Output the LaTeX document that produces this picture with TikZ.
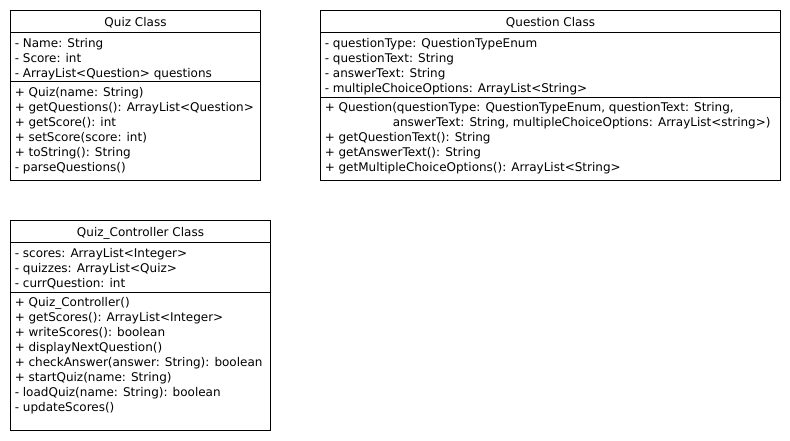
\documentclass[tikz,border=0pt]{standalone}
\usepackage{fontspec}
\setmainfont{DejaVu Sans}
\usepackage{tikz}
\usetikzlibrary{positioning}

\tikzset{
  classbox/.style={draw=black, line width=0.75pt},
  classname/.style={anchor=base, inner sep=0pt, font=\fontsize{9}{11}\selectfont},
  member/.style={anchor=base west, inner sep=0pt, font=\fontsize{9}{11}\selectfont}
}

\begin{document}
\begin{tikzpicture}[x=0.75pt,y=-0.75pt]
\useasboundingbox (0,0) rectangle (790,440);
% Quiz class
\draw[classbox] (10.5,10.5) rectangle (260.5,180.5);
\draw[classbox] (10.5,32.5) -- (260.5,32.5);
\draw[classbox] (10.5,81.5) -- (260.5,81.5);
\node[classname] (quizname) at (135.5,26.5) {Quiz Class};
\foreach \t [count=\i] in {- Name: String, - Score: int, - ArrayList<Question> questions}
  \node[member] (quizattr\i) at (14.5,32+15*\i) {\t};
\foreach \t [count=\i] in {+ Quiz(name: String), + getQuestions(): ArrayList<Question>, + getScore(): int, + setScore(score: int), + toString(): String, - parseQuestions()}
  \node[member] (quizop\i) at (14.5,81.5+15*\i) {\t};

% Question class
\draw[classbox] (320.5,10.5) rectangle (780.5,180.5);
\draw[classbox] (320.5,32.5) -- (780.5,32.5);
\draw[classbox] (320.5,97.5) -- (780.5,97.5);
\node[classname] (questname) at (550.5,26.5) {Question Class};
\foreach \t [count=\i] in {- questionType: QuestionTypeEnum, - questionText: String, - answerText: String, - multipleChoiceOptions: ArrayList<String>}
  \node[member] (questattr\i) at (324.5,32+15*\i) {\t};
\node[member] (questop1) at (324.5,111.5) {+ Question(questionType: QuestionTypeEnum, questionText: String,};
\node[member] (questop2) at (392.5,126.5) {answerText: String, multipleChoiceOptions: ArrayList<string>)};
\node[member] (questop3) at (324.5,141.5) {+ getQuestionText(): String};
\node[member] (questop4) at (324.5,156.5) {+ getAnswerText(): String};
\node[member] (questop5) at (324.5,171.5) {+ getMultipleChoiceOptions(): ArrayList<String>};

% Quiz_Controller class
\draw[classbox] (10.5,220.5) rectangle (270.5,430.5);
\draw[classbox] (10.5,242.5) -- (270.5,242.5);
\draw[classbox] (10.5,292.5) -- (270.5,292.5);
\node[classname] (ctrlname) at (140.5,236.5) {Quiz\_Controller Class};
\foreach \t [count=\i] in {- scores: ArrayList<Integer>, - quizzes: ArrayList<Quiz>, - currQuestion: int}
  \node[member] (ctrlattr\i) at (14.5,242.5+15*\i) {\t};
\foreach \t [count=\i] in {+ Quiz\_Controller(), + getScores(): ArrayList<Integer>, + writeScores(): boolean, + displayNextQuestion(), + checkAnswer(answer: String): boolean, + startQuiz(name: String), - loadQuiz(name: String): boolean, - updateScores()}
  \node[member] (ctrlop\i) at (14.5,291.5+15*\i) {\t};
\end{tikzpicture}
\end{document}
